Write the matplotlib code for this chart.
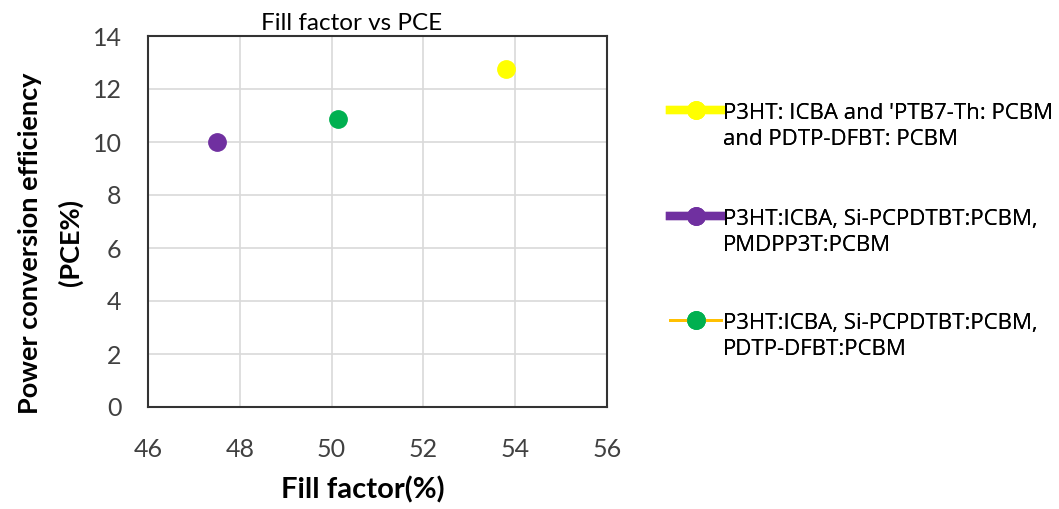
import matplotlib
matplotlib.use("Agg")
import numpy as np
import matplotlib.pyplot as plt
from matplotlib.lines import Line2D
from matplotlib.legend_handler import HandlerLine2D

plt.rcParams['font.family'] = ['Lato', 'DejaVu Sans']

fill_factor = [53.8, 47.5, 50.15]
pce = [12.75, 10.0, 10.87]
labels = ["P3HT: ICBA and 'PTB7-Th: PCBM\nand PDTP-DFBT: PCBM",
          "P3HT:ICBA, Si-PCPDTBT:PCBM,\nPMDPP3T:PCBM",
          "P3HT:ICBA, Si-PCPDTBT:PCBM,\nPDTP-DFBT:PCBM"]
marker_colors = ['#FFFF00', '#7030A0', '#00B050']
line_colors = ['#FFFF00', '#7030A0', '#FFC000']
line_widths = [6, 6, 2]
x_ticks = [46, 48, 50, 52, 54, 56]
y_ticks = [0, 2, 4, 6, 8, 10, 12, 14]


class TopHandler(HandlerLine2D):
    def __init__(self, dy, **kw):
        super().__init__(**kw)
        self.dy = dy

    def create_artists(self, legend, orig_handle, xdescent, ydescent, width,
                       height, fontsize, trans):
        arts = super().create_artists(legend, orig_handle, xdescent, ydescent,
                                      width, height, fontsize, trans)
        for a in arts:
            a.set_ydata(np.asarray(a.get_ydata()) + self.dy)
        return arts


fig = plt.figure(figsize=(10.59, 5.09), dpi=100)
ax = fig.add_axes([148/1059, 1-407/509, 459/1059, 371/509])

handles = []
for x, y, mc, lc, lw in zip(fill_factor, pce, marker_colors, line_colors, line_widths):
    ax.plot([x], [y], marker='o', markersize=12.5, color=mc, linestyle='none', zorder=3)
    handles.append(Line2D([], [], color=lc, linewidth=lw, marker='o',
                          markersize=12.5, markerfacecolor=mc, markeredgecolor=mc))

ax.set_xlim(46, 56)
ax.set_ylim(0, 14)
ax.set_xticks(x_ticks)
ax.set_yticks(y_ticks)
ax.grid(True, color='#D9D9D9', linewidth=1.2)
ax.set_axisbelow(True)
for s in ax.spines.values():
    s.set_color('#333333')
    s.set_linewidth(1.5)
ax.tick_params(length=0, labelsize=18, labelcolor='#404040')
ax.tick_params(axis='x', pad=22)
ax.tick_params(axis='y', pad=19)

fig.text(352/1059, 1-23/509, 'Fill factor vs PCE', fontsize=17.5, ha='center', va='center')
ax.set_xlabel('Fill factor(%)', fontsize=21, fontweight='bold')
ax.xaxis.set_label_coords((363-148)/459, (407-476)/371)
ax.set_ylabel('Power conversion efficiency\n(PCE%)', fontsize=19.5, fontweight='bold',
              linespacing=1.75)
ax.yaxis.set_label_coords((83-148)/459, (407-243)/371)

tops = [103, 209, 313]
for h, lab, top in zip(handles, labels, tops):
    leg = fig.legend([h], [lab], loc='upper left', bbox_to_anchor=(670/1059, 1-top/509),
                     frameon=False, handlelength=2.3, handletextpad=0.1,
                     borderpad=0, borderaxespad=0, prop={'family': 'Open Sans', 'size': 16},
                     handler_map={h: TopHandler(dy=12)})
    for t in leg.get_texts():
        t.set_linespacing(1.3)
    fig.add_artist(leg)

fig.savefig('out.png', dpi=100)
